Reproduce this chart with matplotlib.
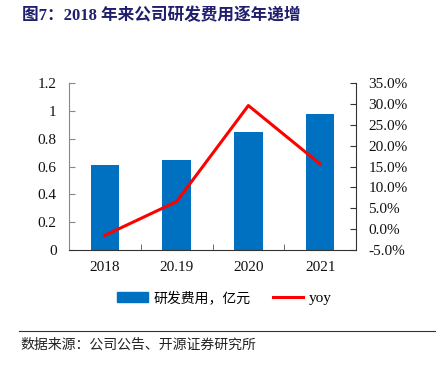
import numpy as np
import matplotlib.pyplot as plt
from matplotlib.lines import Line2D

years = ["2018", "20.19", "2020", "2021"]
rd_expense = [0.61, 0.65, 0.85, 0.98]
yoy = [-1.5, 6.6, 29.6, 15.6]

BLUE = "#0070C0"
RED = "#FF0000"
NAVY = "#1F1F6E"
SERIF = ["Liberation Serif", "Noto Sans CJK SC"]
CJK = ["Noto Sans CJK SC", "DejaVu Sans"]


def main():
    fig = plt.figure(figsize=(4.36, 3.68), dpi=100)
    ax = fig.add_axes([69 / 436, 1 - 250 / 368, 287 / 436, 167 / 368])
    ax2 = ax.twinx()

    x = np.arange(len(years))
    ax.bar(x, rd_expense, width=0.4, color=BLUE, label="研发费用，亿元", zorder=2)
    ax2.plot(x, yoy, color=RED, lw=2.2, label="yoy", zorder=3)

    ax.set_xlim(-0.5, len(years) - 0.5)
    ax.set_ylim(0, 1.2)
    ax.set_yticks([0, 0.2, 0.4, 0.6, 0.8, 1.0, 1.2])
    ax.set_yticklabels(["0", "0.2", "0.4", "0.6", "0.8", "1", "1.2"])
    ax.set_xticks(x)
    ax.set_xticklabels(years)
    ax.set_xticks(np.arange(len(years) + 1) - 0.5, minor=True)
    ax.tick_params(axis="x", which="major", length=0, pad=8)
    ax.tick_params(axis="x", which="minor", direction="in", length=4, color="#555555")
    ax.tick_params(axis="y", direction="in", length=4, color="#888888", pad=9)

    ax2.set_ylim(-5, 35)
    ax2.set_yticks(np.arange(-5, 36, 5))
    ax2.set_yticklabels([f"{v:.1f}%" for v in np.arange(-5, 36, 5)])
    ax2.tick_params(axis="y", direction="in", length=4, color="#333333", pad=9)

    for a in (ax, ax2):
        a.spines["top"].set_visible(False)
        for lab in a.get_xticklabels() + a.get_yticklabels():
            lab.set_family(SERIF)
            lab.set_fontsize(11)
            lab.set_color("#111111")
    ax.spines["left"].set_color("#888888")
    ax.spines["right"].set_visible(False)
    ax2.spines["left"].set_visible(False)
    ax2.spines["bottom"].set_visible(False)
    ax.spines["bottom"].set_color("#333333")
    ax2.spines["right"].set_color("#333333")

    handles = [plt.Rectangle((0, 0), 1, 1, color=BLUE),
               Line2D([0], [0], color=RED, lw=2.2)]
    leg = fig.legend(handles, ["研发费用，亿元", "yoy"], loc="center",
                     bbox_to_anchor=(0.515, 1 - 298 / 368), ncol=2, frameon=False,
                     prop={"family": CJK, "size": 10}, handlelength=2.2,
                     handleheight=0.7, columnspacing=1.6, handletextpad=0.4)
    leg.get_texts()[1].set_family(SERIF)
    leg.get_texts()[1].set_fontsize(11)

    fig.text(22 / 436, 1 - 16 / 368, "图7：2018 年来公司研发费用逐年递增",
             family=SERIF, fontsize=12, fontweight="bold", color=NAVY,
             va="center", ha="left")

    fig.add_artist(Line2D([19 / 436, 1.0], [1 - 331 / 368] * 2,
                          color="#333333", lw=0.8))
    fig.text(20 / 436, 1 - 345 / 368, "数据来源：公司公告、开源证券研究所",
             family=CJK, fontsize=10, color="#222222", va="center", ha="left")

    fig.savefig("out.png", dpi=100)


if __name__ == "__main__":
    main()
